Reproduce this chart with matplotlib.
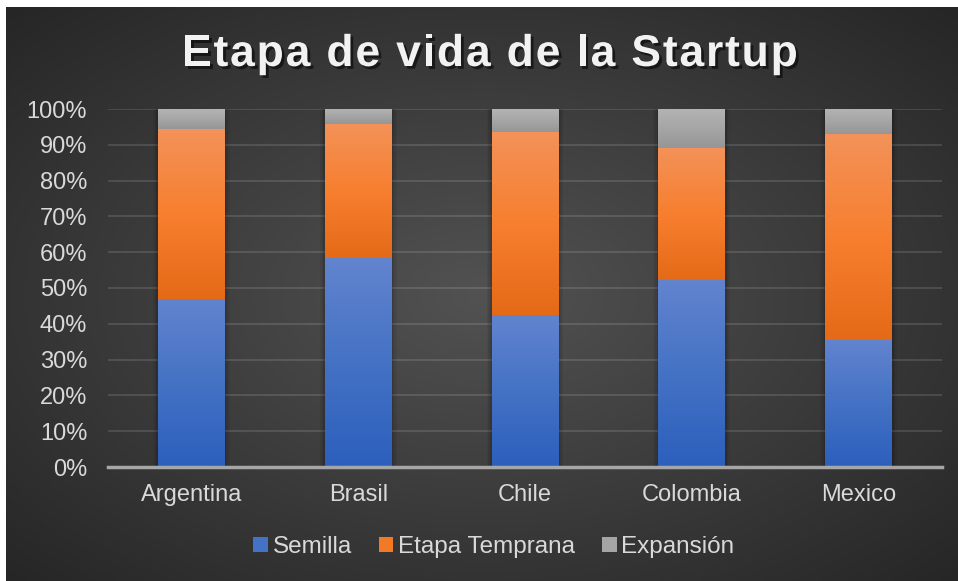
import numpy as np
import matplotlib
matplotlib.use("Agg")
import matplotlib.pyplot as plt
from matplotlib.colors import LinearSegmentedColormap
from matplotlib.patches import Patch
import matplotlib.patheffects as pe

countries = ["Argentina", "Brasil", "Chile", "Colombia", "Mexico"]
semilla = [46.9, 58.3, 42.4, 52.1, 35.6]
temprana = [47.6, 37.5, 51.2, 37.0, 57.4]
expansion = [5.5, 4.2, 6.4, 10.9, 7.0]
series_names = ["Semilla", "Etapa Temprana", "Expansión"]
y_ticks = [0, 10, 20, 30, 40, 50, 60, 70, 80, 90, 100]
title = "Etapa de vida de la Startup"

# gradient stops bottom -> top for each series
grads = [
    ["#2c5fbd", "#4472c4", "#6284cf"],
    ["#e56a17", "#f77f2f", "#f39259"],
    ["#969696", "#a6a6a6", "#b4b4b4"],
]
solid = ["#4472c4", "#f07a26", "#a5a5a5"]
text_col = "#d9d9d9"

plt.rcParams['font.family'] = ['Liberation Sans', 'DejaVu Sans']

fig = plt.figure(figsize=(9.58, 5.81), dpi=100)
fig.patch.set_facecolor("white")

# radial background
bg = fig.add_axes([6 / 958, 0, 1 - 6 / 958, 1 - 7 / 581], zorder=-10)
yy, xx = np.mgrid[0:300, 0:500]
cx, cy = 250, 150
r = np.sqrt(((xx - cx) / 250.0) ** 2 + ((yy - cy) / 150.0) ** 2) / np.sqrt(2)
r = np.clip(r, 0, 1)
bg_cmap = LinearSegmentedColormap.from_list("bg", ["#525252", "#3c3c3c", "#262626"])
bg.imshow(r, cmap=bg_cmap, aspect="auto", interpolation="bilinear")
bg.axis("off")

ax = fig.add_axes([108 / 958, 1 - 467 / 581, (942 - 108) / 958, (467 - 109) / 581])
ax.patch.set_alpha(0)

x = np.arange(len(countries))
width = 0.40
bottoms = np.zeros(len(countries))
for vals, stops in zip([semilla, temprana, expansion], grads):
    bars = ax.bar(x, vals, width, bottom=bottoms, color="none", zorder=3)
    cmap = LinearSegmentedColormap.from_list("g", stops)
    grad = np.linspace(0, 1, 256)[:, None]
    for b in bars:
        x0, y0, w, h = b.get_x(), b.get_y(), b.get_width(), b.get_height()
        # soft shadow
        for k, a in [(0.06, 0.05), (0.04, 0.07), (0.02, 0.1)]:
            ax.fill_between([x0 - k * 0.5, x0 + w + k * 0.5], y0, y0 + h,
                            color="black", alpha=a, lw=0, zorder=2)
        ax.imshow(grad, cmap=cmap, extent=[x0, x0 + w, y0, y0 + h],
                  origin="lower", aspect="auto", zorder=3, interpolation="bilinear")
    bottoms += np.array(vals)

ax.set_xlim(-0.5, len(countries) - 0.5)
ax.set_ylim(0, 100)
ax.set_yticks(y_ticks)
ax.set_yticklabels([f"{t}%" for t in y_ticks])
ax.set_xticks(x)
ax.set_xticklabels(countries)
ax.tick_params(axis="both", length=0, colors=text_col, labelsize=17)
ax.tick_params(axis="x", pad=12)
ax.tick_params(axis="y", pad=15)
for s in ["top", "right", "left"]:
    ax.spines[s].set_visible(False)
ax.spines["bottom"].set_color("#a6a6a6")
ax.spines["bottom"].set_linewidth(2.5)
ax.spines["bottom"].set_zorder(4)
ax.grid(axis="y", color="white", alpha=0.12, lw=1.5, zorder=1)
ax.set_axisbelow(True)

# title with letter spacing, drawn char by char
title_kw = dict(fontsize=32, fontweight="bold", color="#f2f2f2", va="baseline", ha="left",
                path_effects=[pe.withSimplePatchShadow(offset=(2, -2), shadow_rgbFace="black", alpha=0.55)])
renderer = fig.canvas.get_renderer()


def text_w(s):
    t = fig.text(0, 0, s, **title_kw)
    w = t.get_window_extent(renderer).width
    t.remove()
    return w


space_w = text_w("a a") - text_w("aa")
adv = [space_w if ch == " " else text_w(ch) for ch in title]
spacing = 1.8
total = sum(adv) + spacing * (len(title) - 1)
xpos = 490 - total / 2
for ch, a in zip(title, adv):
    if ch != " ":
        fig.text(xpos / 958, 1 - 66 / 581, ch, **title_kw)
    xpos += a + spacing

handles = [Patch(facecolor=c, edgecolor="none") for c in solid]
fig.legend(handles, series_names, loc="center", bbox_to_anchor=(494 / 958, 1 - 547 / 581),
           ncol=3, frameon=False, fontsize=17.5, labelcolor=text_col,
           handlelength=0.6, handleheight=0.6, handletextpad=0.2, columnspacing=1.1)

fig.savefig("out.png", dpi=100)
